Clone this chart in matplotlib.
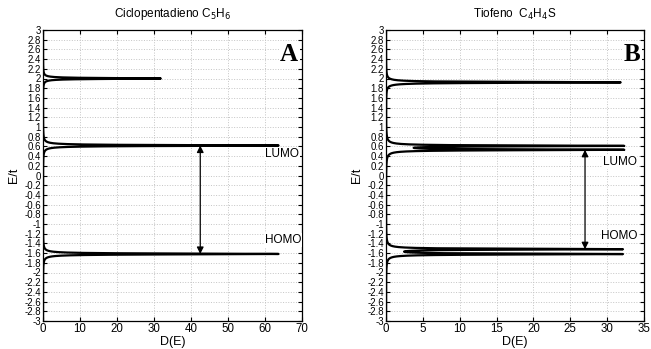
import numpy as np
import matplotlib
matplotlib.use('Agg')
import matplotlib.pyplot as plt

plt.rcParams['font.family'] = ['Liberation Sans', 'DejaVu Sans']

# Huckel levels (E/t) used to build each density of states
levels_c5h6 = [2.0, 0.618, 0.618, -1.618, -1.618]
levels_c4h4s = [1.92, 0.61, 0.53, -1.52, -1.62]
gamma = 0.01  # Lorentzian broadening

titles = ['Ciclopentadieno C$_5$H$_6$', 'Tiofeno  C$_4$H$_4$S']
panel_tags = ['A', 'B']
xmax = [70, 35]
xstep = [10, 5]
# gap arrows: (x position, LUMO, HOMO)
gap_arrows = [(42.5, 0.618, -1.618), (27.0, 0.53, -1.52)]
lumo_text = [(60, 0.44), (29.4, 0.28)]
homo_text = [(60, -1.33), (29.2, -1.25)]

E = np.linspace(-3, 3, 60001)


def dos(levels, E, g):
    # Sum of Lorentzians centred on each level
    D = np.zeros_like(E)
    for e in levels:
        D += g / np.pi / ((E - e) ** 2 + g ** 2)
    return D


fig = plt.figure(figsize=(6.51, 3.49), dpi=100)
rects = [[43 / 651, 28 / 349, 259 / 651, 291 / 349],
         [386 / 651, 28 / 349, 258 / 651, 291 / 349]]

for i, levels in enumerate([levels_c5h6, levels_c4h4s]):
    ax = fig.add_axes(rects[i])
    D = dos(levels, E, gamma)
    ax.plot(D, E, color='black', linewidth=1.6)

    ax.set_xlim(0, xmax[i])
    ax.set_ylim(-3, 3)
    ax.set_xticks(np.arange(0, xmax[i] + 1, xstep[i]))
    yt = np.round(np.arange(-3, 3.01, 0.2), 1)
    ax.set_yticks(yt)
    ax.set_yticklabels(['%g' % v if abs(v) > 1e-9 else '0' for v in yt])
    ax.tick_params(direction='in', length=3, top=True, right=True, pad=1.5)
    ax.tick_params(axis='y', labelsize=6.9)
    ax.tick_params(axis='x', labelsize=8.3)
    ax.grid(True, color='#c4c4c4', linestyle=':', linewidth=0.7)
    for s in ax.spines.values():
        s.set_linewidth(0.9)

    ax.set_title(titles[i], fontsize=8.5, pad=9)
    ax.set_xlabel('D(E)', fontsize=9, labelpad=1)
    ax.set_ylabel('E/t', fontsize=9, labelpad=3)

    ax.text(0.985, 0.915, panel_tags[i], transform=ax.transAxes, ha='right', va='center',
            fontsize=18, fontweight='bold', family='Liberation Serif',
            bbox=dict(facecolor='white', edgecolor='none', pad=1))

    xa, lumo, homo = gap_arrows[i]
    ax.annotate('', xy=(xa, lumo), xytext=(xa, homo),
                arrowprops=dict(arrowstyle='<|-|>', color='black', lw=0.9,
                                mutation_scale=10, shrinkA=0, shrinkB=0))
    ax.text(lumo_text[i][0], lumo_text[i][1], 'LUMO', fontsize=8.5, ha='left', va='center',
            bbox=dict(facecolor='white', edgecolor='none', pad=0.5))
    ax.text(homo_text[i][0], homo_text[i][1], 'HOMO', fontsize=8.5, ha='left', va='center',
            bbox=dict(facecolor='white', edgecolor='none', pad=0.5))

fig.savefig('out.png', dpi=100)
